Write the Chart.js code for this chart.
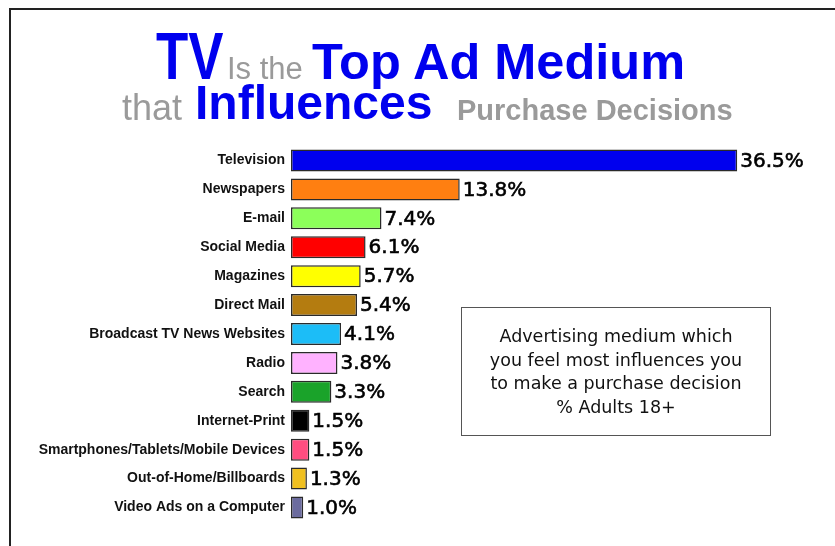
<!DOCTYPE html>
<html lang="en">
<head>
    <meta charset="UTF-8">
    <title>TV Is the Top Ad Medium</title>
    <script src="https://cdn.jsdelivr.net/npm/chart.js"></script>
    <style>
        body {
            margin: 0;
            width: 835px;
            height: 546px;
            overflow: hidden;
            background: #fff;
            position: relative;
            font-family: "DejaVu Sans", sans-serif;
        }

        .frame {
            position: absolute;
            left: 9px;
            top: 8px;
            width: 900px;
            height: 600px;
            border-top: 2px solid #222;
            border-left: 2px solid #222;
        }

        canvas {
            position: absolute;
            left: 0;
            top: 0;
        }

        .t {
            position: absolute;
            white-space: nowrap;
            line-height: 1;
            font-family: "Liberation Sans", Arial, sans-serif;
        }

        .blue { color: #0000ee; font-weight: bold; }
        .gray { color: #9a9a9a; }

        .note {
            position: absolute;
            left: 461px;
            top: 307px;
            width: 310px;
            height: 129px;
            border: 1px solid #555;
            box-sizing: border-box;
            text-align: center;
            font-size: 17.5px;
            line-height: 23.7px;
            padding-top: 17px;
            color: #111;
        }
    </style>
</head>
<body>
    <div class="frame"></div>
    <canvas id="myChart" width="835" height="546"></canvas>

    <span class="t blue" style="left:156px; top:23px; font-size:66px; transform:scaleX(0.8); transform-origin:left;">TV</span>
    <span class="t gray" style="left:227px; top:53px; font-size:31px;">Is the</span>
    <span class="t blue" style="left:312px; top:37px; font-size:50.5px;">Top Ad Medium</span>
    <span class="t gray" style="left:122px; top:90px; font-size:36px;">that</span>
    <span class="t blue" style="left:195px; top:79px; font-size:48px;">Influences</span>
    <span class="t gray" style="left:457px; top:96px; font-size:29px; font-weight:bold;">Purchase Decisions</span>

    <div class="note">
        Advertising medium which<br>
        you feel most influences you<br>
        to make a purchase decision<br>
        % Adults 18+
    </div>

    <script>
        const media = [
            'Television', 'Newspapers', 'E-mail', 'Social Media', 'Magazines',
            'Direct Mail', 'Broadcast TV News Websites', 'Radio', 'Search',
            'Internet-Print', 'Smartphones/Tablets/Mobile Devices',
            'Out-of-Home/Billboards', 'Video Ads on a Computer'
        ];
        const shares = [36.5, 13.8, 7.4, 6.1, 5.7, 5.4, 4.1, 3.8, 3.3, 1.5, 1.5, 1.3, 1.0];
        const barColors = [
            '#0000ee', '#ff7f11', '#8cff5a', '#ff0000', '#ffff00',
            '#b47c10', '#1cbdf7', '#ffb2ff', '#1aa32a', '#000000',
            '#ff4d80', '#f0c020', '#6b6b9e'
        ];

        // percent labels just past the end of each bar
        const valueLabels = {
            id: 'valueLabels',
            afterDatasetsDraw(chart) {
                const ctx = chart.ctx;
                const meta = chart.getDatasetMeta(0);
                ctx.save();
                ctx.font = '20px "DejaVu Sans"';
                ctx.fillStyle = '#000';
                ctx.strokeStyle = '#000';
                ctx.lineWidth = 0.6;
                ctx.textAlign = 'left';
                ctx.textBaseline = 'middle';
                meta.data.forEach((bar, i) => {
                    const label = shares[i].toFixed(1) + '%';
                    ctx.fillText(label, bar.x + 3, bar.y + 1);
                    ctx.strokeText(label, bar.x + 3, bar.y + 1);
                });
                ctx.restore();
            }
        };

        const ctx = document.getElementById('myChart').getContext('2d');
        new Chart(ctx, {
            type: 'bar',
            data: {
                labels: media,
                datasets: [{
                    data: shares,
                    backgroundColor: barColors,
                    borderColor: '#2a2a2a',
                    borderWidth: 1.5,
                    borderSkipped: false,
                    barPercentage: 0.76,
                    categoryPercentage: 1
                }]
            },
            options: {
                indexAxis: 'y',
                responsive: false,
                animation: false,
                layout: {
                    padding: { left: 0, right: 55, top: 146, bottom: 24 }
                },
                plugins: {
                    legend: { display: false },
                    tooltip: { enabled: false }
                },
                scales: {
                    x: {
                        display: false,
                        min: 0,
                        max: 40
                    },
                    y: {
                        grid: { display: false, drawTicks: false },
                        border: { display: false },
                        ticks: {
                            color: '#111',
                            padding: 6,
                            font: { family: 'Liberation Sans', size: 14, weight: 'bold' }
                        },
                        afterFit(scale) {
                            scale.width = 291;
                        }
                    }
                }
            },
            plugins: [valueLabels]
        });
    </script>
</body>
</html>
